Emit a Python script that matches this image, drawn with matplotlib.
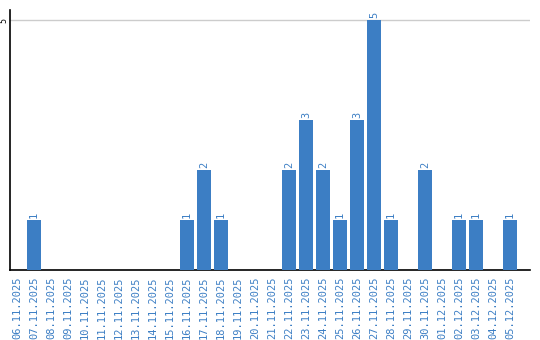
import matplotlib
matplotlib.use("Agg")
import matplotlib.pyplot as plt

DATES = ["06.11.2025", "07.11.2025", "08.11.2025", "09.11.2025", "10.11.2025",
         "11.11.2025", "12.11.2025", "13.11.2025", "14.11.2025", "15.11.2025",
         "16.11.2025", "17.11.2025", "18.11.2025", "19.11.2025", "20.11.2025",
         "21.11.2025", "22.11.2025", "23.11.2025", "24.11.2025", "25.11.2025",
         "26.11.2025", "27.11.2025", "28.11.2025", "29.11.2025", "30.11.2025",
         "01.12.2025", "02.12.2025", "03.12.2025", "04.12.2025", "05.12.2025"]
COUNTS = [0, 1, 0, 0, 0, 0, 0, 0, 0, 0,
          1, 2, 1, 0, 0, 0, 2, 3, 2, 1,
          3, 5, 1, 0, 2, 0, 1, 1, 0, 1]

BLUE = "#3c7ec4"

fig = plt.figure(figsize=(5.4, 3.4), dpi=100)
ax = fig.add_axes([10/540, 70/340, 520/540, 260/340])

x = list(range(len(DATES)))
bars = ax.bar(x, COUNTS, width=0.82, color=BLUE, zorder=3)

for b, v in zip(bars, COUNTS):
    if v > 0:
        ax.text(b.get_x() + b.get_width()/2, v + 0.04, str(v),
                rotation=90, ha="center", va="bottom", color=BLUE,
                family="DejaVu Sans Mono", fontsize=7.5)

ax.set_xlim(-0.41, 30.18)
ax.set_ylim(0, 5.2)
ax.set_yticks([5])
ax.set_yticklabels(["5"], rotation=90, va="center", fontsize=6,
                   family="DejaVu Sans Mono")
ax.grid(axis="y", color="#cccccc", linewidth=1, zorder=0)
ax.tick_params(axis="y", length=0, pad=1)

ax.set_xticks(x)
ax.set_xticklabels(DATES, rotation=90, color=BLUE, fontsize=7.5,
                   family="DejaVu Sans Mono")
ax.tick_params(axis="x", length=0, pad=5)

for s in ["top", "right"]:
    ax.spines[s].set_visible(False)
ax.spines["left"].set_linewidth(1.2)
ax.spines["bottom"].set_linewidth(1.2)

fig.savefig("out.png", dpi=100)
